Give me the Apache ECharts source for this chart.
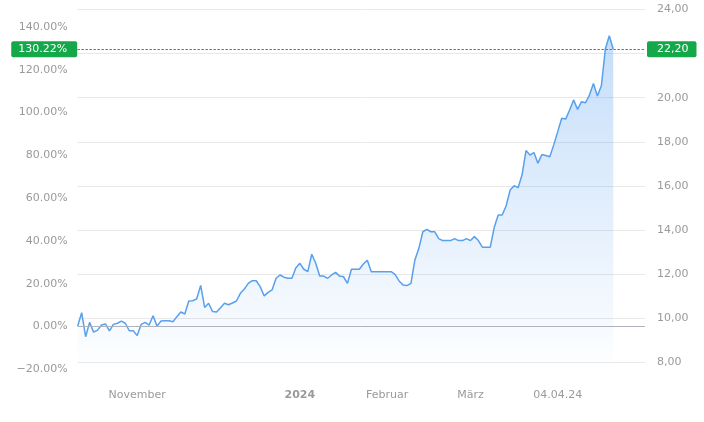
<!DOCTYPE html>
<html><head><meta charset="utf-8">
<script src="https://cdn.jsdelivr.net/npm/echarts@6/dist/echarts.min.js"></script>
<style>html,body{margin:0;padding:0;background:#fff}#c{width:704px;height:422px}</style>
</head><body><div id="c"></div>
<script>
// ---- data ----
const startDate = '2023-10-11';
const categoryCount = 144;
const holidays = ['2023-12-25', '2023-12-26', '2024-01-01', '2024-03-29', '2024-04-01', '2024-05-01'];
const prices = [
  9.643, 10.25, 9.16, 9.81, 9.37, 9.46, 9.69, 9.74, 9.42, 9.72,
  9.77, 9.87, 9.77, 9.43, 9.43, 9.21, 9.72, 9.81, 9.69, 10.11,
  9.64, 9.87, 9.88, 9.88, 9.84, 10.07, 10.28, 10.19, 10.78, 10.79,
  10.88, 11.49, 10.49, 10.68, 10.30, 10.28, 10.47, 10.68, 10.61, 10.69,
  10.78, 11.13, 11.32, 11.58, 11.70, 11.70, 11.43, 11.01, 11.17, 11.28,
  11.81, 11.96, 11.86, 11.81, 11.81, 12.29, 12.49, 12.22, 12.11, 12.90,
  12.49, 11.91, 11.91, 11.81, 11.96, 12.08, 11.91, 11.88, 11.58, 12.22,
  12.22, 12.22, 12.46, 12.63, 12.11, 12.11, 12.11, 12.11, 12.11, 12.11,
  11.99, 11.69, 11.51, 11.48, 11.58, 12.64, 13.17, 13.92, 14.03, 13.92,
  13.92, 13.61, 13.52, 13.52, 13.52, 13.61, 13.52, 13.52, 13.61, 13.52,
  13.70, 13.52, 13.22, 13.22, 13.22, 14.12, 14.68, 14.68, 15.10, 15.81,
  16.01, 15.92, 16.49, 17.60, 17.40, 17.51, 17.03, 17.42, 17.38, 17.32,
  17.86, 18.46, 19.07, 19.03, 19.44, 19.90, 19.47, 19.82, 19.77, 20.12,
  20.64, 20.08, 20.54, 22.21, 22.81, 22.20
];
const tickDates = ['2023-11-01', '2024-01-02', '2024-02-01', '2024-03-01', '2024-04-04'];
const tickTexts = ['November', '2024', 'Februar', 'März', '04.04.24'];
const priceMin = 8, priceMax = 24, priceStep = 2;
const pctMin = -20, pctMax = 140, pctStep = 20;

// ---- build ----
function buildDates() {
  const out = [];
  const d = new Date(startDate + 'T00:00:00Z');
  while (out.length < categoryCount) {
    const wd = d.getUTCDay();
    const s = d.toISOString().slice(0, 10);
    if (wd !== 0 && wd !== 6 && !holidays.includes(s)) out.push(s);
    d.setUTCDate(d.getUTCDate() + 1);
  }
  return out;
}
const dates = buildDates();
const base = prices[0];
const last = prices[prices.length - 1];
const FONT = 'DejaVu Sans';
const GREEN = '#14a84a';
const LINE = '#58a0ee';
const GRAY = '#9a9a9a';
const fmtPct = v => (v < 0 ? '\u2212' : '') + Math.abs(v).toFixed(2) + '%';
const fmtPrice = v => v.toFixed(2).replace('.', ',');

const chart = echarts.init(document.getElementById('c'), null, {renderer: 'canvas'});
chart.setOption({
  animation: false,
  backgroundColor: '#fff',
  grid: [
    {left: 77.7, right: 59, top: 9.5, bottom: 59.7},
    {left: 77.7, right: 59, top: 27, bottom: 52.7}
  ],
  xAxis: [
    {
      type: 'category', data: dates, boundaryGap: false,
      axisLine: {show: false}, axisTick: {show: false}, splitLine: {show: false},
      axisLabel: {
        interval: (i, v) => tickDates.includes(v),
        formatter: v => {
          const t = tickTexts[tickDates.indexOf(v)];
          return /^\d{4}$/.test(t) ? '{y|' + t + '}' : t;
        },
        color: GRAY, fontFamily: FONT, fontSize: 11, margin: 27,
        rich: {y: {fontWeight: 'bold', color: GRAY, fontFamily: FONT, fontSize: 11}}
      }
    },
    {type: 'value', gridIndex: 1, show: false, min: 0, max: 1}
  ],
  yAxis: [
    {
      type: 'value', position: 'right', min: priceMin, max: priceMax, interval: priceStep,
      axisLine: {show: false}, axisTick: {show: false},
      splitLine: {lineStyle: {color: '#e8e8e8', width: 1}},
      axisLabel: {formatter: fmtPrice, color: GRAY, fontFamily: FONT, fontSize: 11, margin: 12}
    },
    {
      type: 'value', gridIndex: 1, position: 'left', min: pctMin, max: pctMax, interval: pctStep,
      axisLine: {show: false}, axisTick: {show: false}, splitLine: {show: false},
      axisLabel: {formatter: fmtPct, color: GRAY, fontFamily: FONT, fontSize: 11, margin: 10}
    }
  ],
  series: [{
    type: 'line', data: prices, xAxisIndex: 0, yAxisIndex: 0,
    showSymbol: false, symbol: 'none', smooth: false,
    lineStyle: {color: LINE, width: 1.5},
    areaStyle: {
      origin: 'start',
      color: new echarts.graphic.LinearGradient(0, 0, 0, 1, [
        {offset: 0, color: 'rgba(88,160,238,0.50)'},
        {offset: 1, color: 'rgba(88,160,238,0.02)'}
      ])
    },
    markLine: {
      silent: true, symbol: ['none', 'none'], animation: false,
      data: [
        {yAxis: base, lineStyle: {color: '#aeb2ba', type: 'solid', width: 1}, label: {show: false}},
        {yAxis: last, lineStyle: {color: GREEN, type: [2, 2], width: 1},
          label: {show: true, position: 'start', distance: 0.5, formatter: () => fmtPct((last / base - 1) * 100),
            color: '#fff', backgroundColor: GREEN, padding: [2, 10, 2, 7], borderRadius: 2,
            fontFamily: FONT, fontSize: 11, lineHeight: 12}},
        {yAxis: last, lineStyle: {color: GREEN, type: [2, 2], width: 1},
          label: {show: true, position: 'end', distance: 2, formatter: () => fmtPrice(last),
            color: '#fff', backgroundColor: GREEN, padding: [2, 8, 2, 10], borderRadius: 2,
            fontFamily: FONT, fontSize: 11, lineHeight: 12}}
      ]
    }
  }]
});
</script></body></html>
